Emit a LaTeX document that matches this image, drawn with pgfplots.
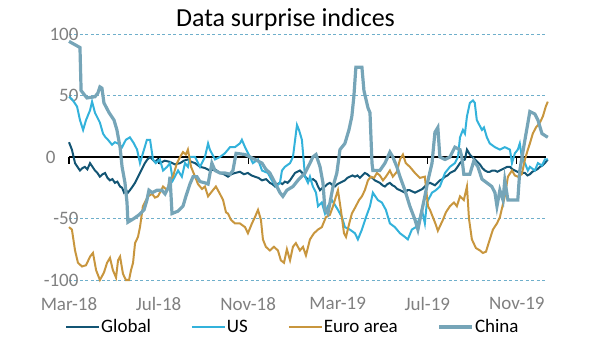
\documentclass[border=0pt]{standalone}
\usepackage{fontspec}
\setmainfont{Carlito}
\usepackage{pgfplots}
\pgfplotsset{compat=1.18}
\definecolor{cGlobal}{HTML}{135574}
\definecolor{cUS}{HTML}{33B2DB}
\definecolor{cEuro}{HTML}{C8963E}
\definecolor{cChina}{HTML}{76A5B8}
\definecolor{cGrid}{HTML}{6FAFCB}
\definecolor{cTick}{HTML}{808080}
\begin{document}
\begin{tikzpicture}
\useasboundingbox (-69bp,-71bp) rectangle (531bp,280bp);
% zero line with its tick marks
\begin{axis}[at={(0,0)}, anchor=south west, scale only axis,
  width=477bp, height=246bp, xmin=0, xmax=21.3, ymin=-100, ymax=100,
  axis x line=middle, axis y line=none,
  xtick={0,4,8,12,16,20}, xticklabels={}, ytick=\empty,
  x axis line style={-, black, line width=2bp},
  xtick style={black, line width=1.2bp},
  major tick length=7bp, tick align=outside]
\end{axis}
\begin{axis}[at={(0,0)}, anchor=south west, scale only axis,
  width=477bp, height=246bp, xmin=0, xmax=21.3, ymin=-100, ymax=100,
  clip=false,
  axis line style={draw=none}, major tick length=0pt,
  xtick={0,4,8,12,16,20},
  xticklabels={Mar-18,Jul-18,Nov-18,Mar-19,Jul-19,Nov-19},
  ytick={-100,-50,50,100}, yticklabels={-100,-50,50,100},
  ymajorgrids,
  grid style={cGrid, line width=0.8bp, dash pattern=on 3bp off 2.5bp},
  tick label style={font=\fontsize{19bp}{21bp}\selectfont, text=cTick},
  yticklabel style={anchor=east, xshift=13bp},
  xticklabel style={yshift=-14bp},
  legend style={at={(-0.0084,-0.191)}, anchor=west, draw=none, fill=none,
    font=\fontsize{19bp}{22bp}\selectfont, inner sep=0pt,
    nodes={inner sep=1bp},
    /tikz/every even column/.append style={column sep=39bp}},
  legend columns=4,
  legend image code/.code={\draw[#1] (0bp,0bp) -- (33bp,0bp);}
]
\addplot[cGlobal, line width=2bp] coordinates {
(0,12) (0.13,6) (0.27,-5) (0.38,-8) (0.49,-11) (0.6,-9) (0.71,-8) (0.82,-10) (0.94,-5) (1.05,-8) (1.16,-11) (1.27,-13) (1.38,-16) (1.5,-14) (1.61,-13) (1.72,-17) (1.83,-19) (1.94,-18) (2.05,-21) (2.16,-20) (2.28,-24) (2.37,-25) (2.46,-29) (2.55,-27) (2.63,-29) (2.72,-27) (2.84,-24) (2.95,-21) (3.06,-17) (3.17,-13) (3.28,-9) (3.39,-5) (3.5,-2) (3.62,0) (3.73,-2) (3.84,-4) (3.95,-2) (4.06,-5) (4.28,-3) (4.51,-4) (4.73,-6) (4.96,-5) (5.13,-3) (5.31,-2) (5.47,-4) (5.63,-5) (5.85,-8) (6.07,-9) (6.29,-11) (6.52,-10) (6.74,-13) (6.92,-14) (7.10,-16) (7.25,-14) (7.41,-13) (7.63,-12) (7.81,-14) (7.99,-13) (8.15,-15) (8.30,-16) (8.46,-17) (8.62,-19) (8.8,-18) (8.97,-21) (9.08,-22) (9.20,-24) (9.31,-22) (9.42,-21) (9.53,-22) (9.64,-20) (9.76,-21) (9.87,-19) (9.98,-16) (10.09,-13) (10.2,-12) (10.31,-11) (10.42,-13) (10.54,-16) (10.65,-18) (10.76,-19) (10.9,-18) (11.03,-20) (11.12,-24) (11.21,-27) (11.32,-25) (11.43,-24) (11.54,-22) (11.65,-21) (11.77,-23) (11.88,-24) (11.99,-22) (12.10,-21) (12.21,-20) (12.32,-19) (12.43,-17) (12.54,-16) (12.66,-15) (12.77,-16) (12.88,-15) (12.99,-17) (13.1,-15) (13.21,-13) (13.32,-14) (13.44,-16) (13.55,-17) (13.66,-19) (13.77,-20) (13.88,-21) (14.0,-23) (14.11,-24) (14.22,-22) (14.33,-21) (14.44,-23) (14.55,-24) (14.66,-26) (14.78,-27) (14.89,-28) (15.0,-29) (15.11,-27) (15.22,-27) (15.33,-28) (15.45,-29) (15.56,-28) (15.67,-27) (15.78,-26) (15.89,-24) (16.0,-22) (16.12,-21) (16.23,-22) (16.34,-23) (16.45,-21) (16.56,-19) (16.67,-18) (16.79,-16) (16.9,-15) (17.01,-13) (17.12,-12) (17.23,-11) (17.35,-8) (17.46,-5) (17.57,-3) (17.68,-2) (17.77,6) (17.9,2) (18.01,0) (18.13,-2) (18.24,-4) (18.35,-6) (18.46,-9) (18.57,-11) (18.68,-12) (18.79,-12) (18.9,-11) (19.02,-11) (19.13,-12) (19.24,-11) (19.35,-10) (19.46,-9) (19.57,-8) (19.69,-8) (19.8,-10) (19.91,-11) (20.02,-12) (20.13,-12) (20.24,-13) (20.36,-13) (20.47,-15) (20.58,-14) (20.69,-12) (20.8,-11) (20.91,-10) (21.03,-8) (21.14,-7) (21.25,-5) (21.38,-2)
};
\addlegendentry{Global}
\addplot[cUS, line width=2bp] coordinates {
(0,49) (0.13,47) (0.25,44) (0.36,41) (0.49,30) (0.63,22) (0.76,30) (0.94,38) (1.03,45) (1.16,36) (1.27,32) (1.38,28) (1.52,19) (1.63,16) (1.74,14) (1.92,10) (2.05,12) (2.19,11) (2.37,8) (2.54,14) (2.72,16) (2.90,11) (3.04,6) (3.17,-5) (3.30,3) (3.48,14) (3.62,14) (3.75,-2) (3.88,-5) (4.06,-2) (4.20,-11) (4.38,-8) (4.51,-5) (4.64,-19) (4.87,-11) (5.04,-16) (5.18,-5) (5.31,-8) (5.40,0) (5.63,0) (5.85,-8) (6.07,0) (6.21,11) (6.29,6) (6.52,-2) (6.74,0) (6.96,3) (7.19,8) (7.41,8) (7.63,11) (7.72,14) (7.86,8) (8.08,0) (8.21,-5) (8.44,-2) (8.62,-11) (8.88,-13) (9.06,-19) (9.24,-24) (9.42,-21) (9.51,-11) (9.64,-8) (9.87,-5) (10.0,0) (10.18,26) (10.27,22) (10.40,14) (10.54,-16) (10.67,-21) (10.76,-16) (10.89,-24) (11.03,-29) (11.12,-40) (11.29,-37) (11.43,-46) (11.56,-40) (11.74,-35) (12.01,-43) (12.19,-49) (12.32,-57) (12.54,-59) (12.77,-62) (12.90,-67) (13.08,-59) (13.26,-49) (13.44,-40) (13.57,-29) (13.79,-35) (13.97,-37) (14.15,-43) (14.33,-54) (14.55,-57) (14.78,-62) (15.0,-65) (15.13,-67) (15.31,-59) (15.49,-57) (15.67,-49) (15.76,-43) (15.89,-54) (15.98,-37) (16.21,-29) (16.38,-27) (16.56,-24) (16.79,-13) (17.01,-8) (17.23,-5) (17.37,0) (17.46,16) (17.59,22) (17.68,19) (17.77,33) (17.90,44) (18.04,46) (18.12,44) (18.21,30) (18.44,22) (18.53,24) (18.66,16) (18.79,11) (19.02,8) (19.24,6) (19.46,8) (19.69,6) (19.78,-5) (19.91,3) (20.04,6) (20.13,11) (20.22,0) (20.36,-5) (20.49,-11) (20.58,-8) (20.80,-11) (20.94,-5) (21.12,-7) (21.25,-2) (21.38,-2)
};
\addlegendentry{US}
\addplot[cEuro, line width=2bp] coordinates {
(0,-57) (0.13,-59) (0.27,-76) (0.40,-86) (0.58,-89) (0.76,-88) (0.94,-81) (1.07,-78) (1.21,-92) (1.38,-100) (1.56,-94) (1.70,-86) (1.83,-82) (1.96,-92) (2.10,-98) (2.19,-84) (2.28,-81) (2.41,-95) (2.54,-100) (2.68,-100) (2.77,-92) (2.86,-86) (2.95,-70) (3.08,-65) (3.17,-57) (3.30,-40) (3.44,-35) (3.53,-32) (3.71,-30) (3.84,-33) (3.97,-32) (4.06,-29) (4.20,-24) (4.38,-27) (4.51,-19) (4.64,-16) (4.82,-5) (4.96,0) (5.09,4) (5.22,2) (5.31,6) (5.45,-8) (5.63,-16) (5.76,-22) (5.94,-26) (6.07,-24) (6.21,-32) (6.38,-28) (6.56,-24) (6.74,-30) (6.88,-35) (7.01,-45) (7.10,-46) (7.23,-51) (7.41,-54) (7.63,-54) (7.86,-57) (7.99,-62) (8.17,-54) (8.30,-49) (8.44,-43) (8.57,-51) (8.66,-67) (8.79,-73) (8.97,-76) (9.15,-73) (9.33,-76) (9.46,-84) (9.60,-86) (9.73,-75) (9.87,-84) (10.0,-73) (10.13,-70) (10.31,-76) (10.45,-73) (10.58,-80) (10.76,-67) (10.94,-62) (11.12,-59) (11.29,-57) (11.47,-49) (11.65,-47) (11.79,-40) (11.92,-32) (12.01,-27) (12.14,-43) (12.28,-62) (12.37,-65) (12.50,-55) (12.63,-46) (12.81,-40) (12.95,-35) (13.08,-32) (13.21,-27) (13.35,-19) (13.48,-16) (13.62,-17) (13.75,-13) (13.88,-15) (14.02,-19) (14.15,-16) (14.33,-11) (14.46,-16) (14.64,-12) (14.78,-2) (14.91,2) (15.04,-5) (15.22,-8) (15.45,-13) (15.67,-17) (15.89,-16) (16.03,-40) (16.12,-43) (16.25,-49) (16.38,-55) (16.47,-60) (16.70,-51) (16.83,-45) (17.01,-40) (17.19,-37) (17.32,-40) (17.46,-32) (17.63,-35) (17.77,-24) (17.86,-50) (17.99,-67) (18.17,-74) (18.35,-76) (18.48,-78) (18.62,-77) (18.79,-67) (18.93,-59) (19.11,-54) (19.24,-49) (19.46,-32) (19.60,-16) (19.78,-11) (19.91,-15) (20.04,-16) (20.22,-14) (20.36,-2) (20.49,6) (20.58,11) (20.71,19) (20.85,24) (21.03,28) (21.16,33) (21.29,41) (21.38,45)
};
\addlegendentry{Euro area}
\addplot[cChina, line width=3.2bp] coordinates {
(0,94) (0.49,89) (0.54,54) (0.80,48) (1.16,49) (1.29,52) (1.38,57) (1.47,56) (1.56,44) (1.79,36) (2.01,30) (2.14,22) (2.28,8) (2.37,-8) (2.50,-21) (2.59,-37) (2.63,-53) (2.90,-50) (3.13,-47) (3.35,-43) (3.48,-35) (3.57,-27) (3.71,-29) (3.93,-27) (4.15,-27) (4.29,-30) (4.46,-24) (4.51,-16) (4.60,-46) (4.87,-44) (5.09,-40) (5.22,-32) (5.40,-22) (5.54,-16) (5.71,-16) (5.85,-20) (6.07,-21) (6.21,-22) (6.38,-5) (6.52,-11) (6.74,-13) (6.96,-13) (7.19,-14) (7.32,-11) (7.46,3) (7.86,2) (8.30,-2) (8.62,-5) (8.79,-10) (8.97,-13) (9.20,-21) (9.42,-29) (9.55,-32) (9.73,-27) (10.0,-24) (10.22,-19) (10.54,-13) (10.76,-5) (10.89,0) (11.03,2) (11.21,-8) (11.34,-21) (11.43,-43) (11.56,-46) (11.79,-24) (11.96,-13) (12.10,6) (12.32,11) (12.50,22) (12.63,33) (12.72,49) (12.81,73) (13.08,73) (13.17,54) (13.35,40) (13.44,36) (13.53,-5) (13.57,-11) (13.88,-11) (14.11,-5) (14.33,4) (14.46,0) (14.64,-8) (14.78,-16) (15.0,-27) (15.22,-40) (15.45,-51) (15.58,-59) (15.67,-51) (15.89,-32) (16.03,-19) (16.21,-5) (16.34,20) (16.47,24) (16.56,0) (16.79,-2) (17.01,0) (17.23,8) (17.46,6) (17.54,0) (17.63,-14) (17.90,-14) (18.08,-3) (18.26,-8) (18.44,-18) (18.66,-21) (18.88,-24) (19.02,-29) (19.11,-40) (19.24,-27) (19.38,-35) (19.46,-19) (19.60,-35) (20.04,-35) (20.13,-11) (20.36,14) (20.58,37) (20.80,35) (20.94,30) (21.12,19) (21.38,16)
};
\addlegendentry{China}
\node[font=\fontsize{19bp}{21bp}\selectfont, text=cTick, anchor=east] at ([xshift=-10bp]rel axis cs:0,0.5) {0};
\end{axis}
\node[font=\fontsize{26bp}{30bp}\selectfont, anchor=base] at (216.5bp,253bp) {Data surprise indices};
\end{tikzpicture}
\end{document}
